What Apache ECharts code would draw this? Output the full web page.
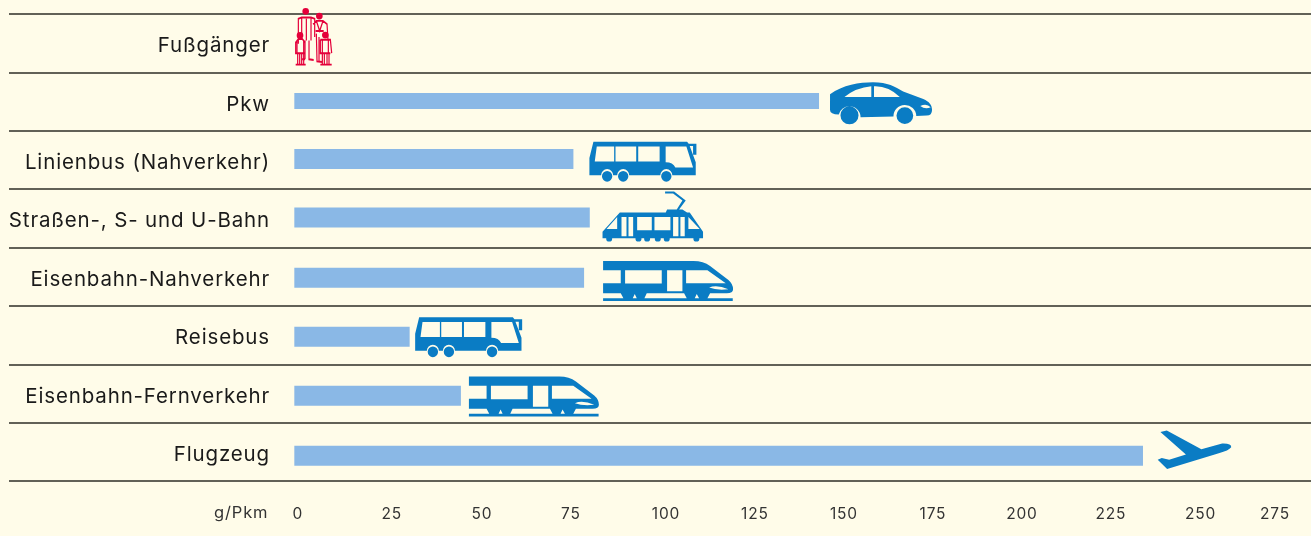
<!DOCTYPE html>
<html>
<head>
<meta charset="utf-8">
<style>
  html, body { margin: 0; padding: 0; background: #fffce9; }
  #chart { width: 1311px; height: 536px; }
</style>
</head>
<body>
<div id="chart"></div>
<script src="https://cdn.jsdelivr.net/npm/echarts@6/dist/echarts.min.js"></script>
<script>
// Kategorien von oben nach unten
const categories = ['Fußgänger', 'Pkw', 'Linienbus (Nahverkehr)', 'Straßen-, S- und U-Bahn',
  'Eisenbahn-Nahverkehr', 'Reisebus', 'Eisenbahn-Fernverkehr', 'Flugzeug'];
const values = [null, 143, 74, 78.6, 77, 28, 42.4, 234];
const tickValues = [0, 25, 50, 75, 100, 125, 150, 175, 200, 225, 250, 275];
// Die Beschriftung steht im Original nicht genau auf dem Skalenwert
const tickShift = [-3.4, -2, -1.7, -1.7, 0, 0, 0, 0, 0, 0, 0.2, -3.9];
// Balken beginnen im Original etwas links vom Nullpunkt
const barStart = -4.4;
// Balken sitzen nicht exakt mittig, Pkw ist schmaler (Pixel)
const barShift = [0, -0.6, -1, -0.7, 1, 1.8, 2.4, 4];
const barHeight = [0, 16, 20, 20, 20, 20, 20, 20];

const axisMin = -84.55;
const axisMax = 281.2;

const BLUE = '#0a7cc4';
const RED = '#e4003a';

// Laufweite wie im Original: ECharts kennt kein letterSpacing, also direkt am Canvas setzen
const origFillText = CanvasRenderingContext2D.prototype.fillText;
CanvasRenderingContext2D.prototype.fillText = function (...args) {
  this.letterSpacing = '0.85px';
  return origFillText.apply(this, args);
};

// Helfer fuer die Piktogramme: Aussenform im Uhrzeigersinn, Loecher gegen den Uhrzeigersinn
function circle(cx, cy, r) {
  return `M${cx - r},${cy} A${r},${r} 0 1 1 ${cx + r},${cy} A${r},${r} 0 1 1 ${cx - r},${cy} Z `;
}
function hole(x0, y0, x1, y1) {
  return `M${x0},${y1} L${x1},${y1} L${x1},${y0} L${x0},${y0} Z `;
}

const carIcon = 'path://M752,58 C790,30 840,22 880,22 C925,22 945,35 970,50 L1030,72 C1048,80 1056,90 1056,105 Q1056,122 1040,122 ' +
  'L1009,123 A34,34 0 0 0 941,125 L843,127 A33,33 0 0 0 778,119 Q752,118 752,105 Z ' +
  'M795,66 L875,66 L875,34 Q830,38 795,66 Z M883,66 L960,66 Q925,32 883,34 Z ' +
  'M1021,93 Q1035,104 1052,97 Q1040,84 1021,93 Z ' +
  circle(810, 121, 27) + circle(975, 122, 25);

const busIcon = 'path://M28,300 L28,250 L40,202 L320,202 L325,208 L348,208 L348,240 L338,240 L338,215 L328,215 L346,262 L346,300 ' +
  'L276,300 A18,18 0 0 0 240,300 L147,300 A18,18 0 0 0 111,300 L99,300 A18,18 0 0 0 63,300 Z ' +
  'M44,260 L102,260 L102,216 L50,216 Z ' + hole(106, 216, 168, 260) + hole(174, 216, 238, 260) +
  'M256,262 Q278,262 285,277 L338,277 L318,216 L256,216 Z ' +
  circle(81, 303, 15.5) + circle(129, 303, 15.5) + circle(258, 303, 15.5);

const tramIcon = 'path://M120,412 L258,412 L262,403 L308,403 L322,412 L330,412 L370,470 L370,490 L68,490 L68,470 Z ' +
  'M256,349 L283,349 L318,376 L298,403 L291,403 L308,376 L280,355 L256,355 Z ' +
  'M80,462 L112,462 L112,426 Z ' + hole(125, 426, 140, 484) + hole(146, 426, 160, 484) +
  hole(172, 426, 216, 466) + hole(224, 426, 272, 466) + hole(280, 426, 296, 484) + hole(302, 426, 315, 484) +
  'M326,462 L360,462 L326,426 Z ' +
  circle(88, 491, 9) + circle(176, 491, 9) + circle(202, 491, 9) + circle(234, 491, 9) + circle(261, 491, 9) + circle(350, 491, 9);

const trainIcon = 'path://M609,33 L880,33 Q910,33 930,48 L985,90 Q999,102 999,118 Q999,130 980,130 L609,130 Z ' +
  hole(609, 61, 662, 100) + hole(675, 61, 785, 101) + hole(801, 61, 847, 124) +
  'M858,100 L977,100 L922,61 L858,61 Z M927,113 Q950,122 985,118 Q950,103 927,113 Z ' +
  'M662,130 L740,130 L733,145 L710,145 L704,132 L698,145 L670,145 Z ' +
  'M852,130 L930,130 L922,145 L897,145 L890,132 L884,145 L860,145 Z ' +
  'M609,145 L998,145 L998,153 L609,153 Z';

const planeIcon = 'path://M178,120 L190,115 L212,120 L262,104 L186,36 L205,32 L308,88 L370,71 Q398,70 397,82 Q390,92 360,100 L206,148 Z';

// Familie als Strichzeichnung, Koepfe gefuellt
const familyIcon = 'path://M888,26 L888,26 ' +
  'M896,130 L896,56 L906,52 L934,52 L945,56 L945,110 M906,52 L906,100 M934,52 L934,120 ' +
  'M916,120 L916,176 M928,120 L928,176 L942,178 M916,176 L908,176 M920,56 L920,120 ' +
  'M940,72 L950,62 L970,62 L982,72 L985,120 M950,62 L960,92 L970,62 M948,92 L972,92 M950,100 L952,182 L968,184 M958,110 L958,182 ' +
  'M888,126 L896,116 L908,116 L916,126 L916,158 L888,158 Z M892,122 L892,160 M912,122 L912,160 ' +
  'M894,158 L894,190 M900,158 L900,190 M906,158 L906,190 M912,158 L912,190 M888,192 L918,192 ' +
  'M962,118 L992,118 L996,158 M962,118 L962,158 L992,158 M968,118 L968,156 M986,118 L986,156 ' +
  'M968,158 L968,190 M974,158 L974,190 M982,158 L982,190 M988,158 L988,190 M962,192 L996,192';
const familyHeads = 'path://' + circle(918, 33, 10) + circle(959, 47, 10) + circle(901, 105, 10) + circle(977, 104, 10);

// Piktogramm je Kategorie, Groesse in Pixeln, Abstand vom Balkenende
const iconSeriesData = [
  { cat: 0, value: 0, symbol: familyIcon, size: [36, 56], offset: [3.7, -6.5], red: true },
  { cat: 0, value: 0, symbol: familyHeads, size: [32, 30.7], offset: [2.7, -19.8], color: RED },
  { cat: 1, value: 143, symbol: carIcon, size: [102, 42], offset: [62, 1.7] },
  { cat: 2, value: 74, symbol: busIcon, size: [107, 40], offset: [69.5, 1.7] },
  { cat: 3, value: 78.6, symbol: tramIcon, size: [100.5, 50], offset: [63, -1.7] },
  { cat: 4, value: 77, symbol: trainIcon, size: [130, 40], offset: [84, 4.2] },
  { cat: 5, value: 28, symbol: busIcon, size: [107, 40], offset: [59, 2.1] },
  { cat: 6, value: 42.4, symbol: trainIcon, size: [130, 40], offset: [73, 3.1] },
  { cat: 7, value: 234, symbol: planeIcon, size: [73.5, 38.5], offset: [51.5, -2] }
];

const tickLabelText = new Map(tickValues.map((v, i) => [v + tickShift[i], String(v)]));

const chart = echarts.init(document.getElementById('chart'), null, { renderer: 'canvas' });

chart.setOption({
  backgroundColor: '#fffce9',
  animation: false,
  grid: { left: 9, right: 0, top: 14, height: 467 },
  xAxis: {
    type: 'value',
    min: axisMin,
    max: axisMax,
    axisLine: { show: false },
    axisTick: { show: false },
    splitLine: { show: false },
    axisLabel: {
      customValues: [...tickLabelText.keys()],
      formatter: v => tickLabelText.get(v) ?? '',
      margin: 25,
      fontFamily: 'Inter',
      fontSize: 15.5,
      color: '#333'
    }
  },
  yAxis: {
    type: 'category',
    inverse: true,
    data: categories,
    axisLine: { show: false },
    axisTick: { show: false },
    splitLine: { show: true, interval: 0, lineStyle: { color: '#2e2e26', width: 1.5 } },
    axisLabel: {
      interval: 0,
      margin: -261,
      align: 'right',
      verticalAlign: 'top',
      lineHeight: 6,
      fontFamily: 'Inter',
      fontSize: 20.5,
      color: '#1a1a1a'
    }
  },
  graphic: [{
    type: 'text',
    left: 214,
    top: 505,
    style: { text: 'g/Pkm', font: '16.5px Inter', fill: '#333' }
  }],
  series: [{
    type: 'custom',
    name: 'g/Pkm',
    encode: { x: 1, y: 0 },
    data: values.map((v, i) => [i, v]).filter(d => d[1] != null),
    renderItem(params, api) {
      const row = api.value(0);
      const start = api.coord([barStart, row]);
      const end = api.coord([api.value(1), row]);
      const h = barHeight[row];
      return {
        type: 'rect',
        shape: { x: start[0], y: start[1] - h / 2 + barShift[row], width: end[0] - start[0], height: h },
        style: { fill: '#8ab8e6' }
      };
    }
  }, {
    type: 'scatter',
    silent: true,
    data: iconSeriesData.map(d => ({
      value: [d.value, d.cat],
      symbol: d.symbol,
      symbolSize: d.size,
      symbolOffset: d.offset,
      symbolKeepAspect: false,
      itemStyle: d.red
        ? { color: 'rgba(0,0,0,0)', borderColor: RED, borderWidth: 1.5, opacity: 1 }
        : { color: d.color || BLUE, opacity: 1 }
    }))
  }]
});

window.onresize = () => chart.resize();
</script>
</body>
</html>
